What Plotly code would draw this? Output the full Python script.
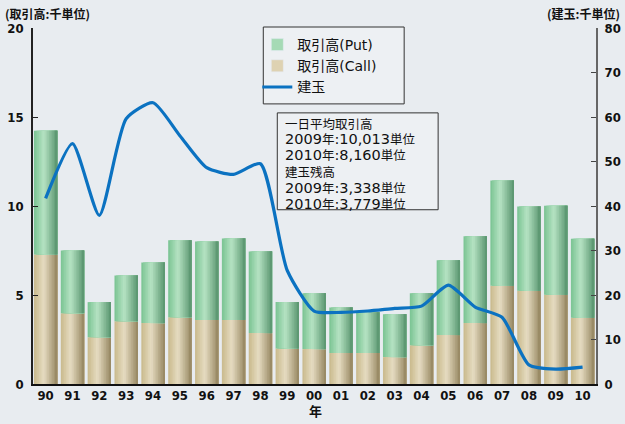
import re
import plotly.graph_objects as go

years = ["90","91","92","93","94","95","96","97","98","99","00",
         "01","02","03","04","05","06","07","08","09","10"]
call_vol = [7.28, 3.98, 2.63, 3.53, 3.42, 3.75, 3.60, 3.60, 2.86, 2.00, 1.96,
            1.74, 1.74, 1.51, 2.18, 2.75, 3.42, 5.52, 5.24, 5.01, 3.72]
total_vol = [14.23, 7.50, 4.60, 6.10, 6.83, 8.07, 8.00, 8.18, 7.45, 4.60, 5.10,
             4.30, 4.03, 3.92, 5.10, 6.95, 8.30, 11.43, 9.97, 10.013, 8.160]
put_vol = [round(t - c, 3) for t, c in zip(total_vol, call_vol)]
open_interest = [41.7, 54.0, 37.9, 59.6, 63.2, 55.8, 48.6, 47.1, 49.5, 25.5, 16.4,
                 16.1, 16.4, 17.0, 17.5, 22.2, 17.3, 15.0, 4.3, 3.338, 3.779]

left_ticks = [0, 5, 10, 15, 20]
right_ticks = [0, 10, 20, 30, 40, 50, 60, 70, 80]

note_lines = ["一日平均取引高", "2009年:10,013単位", "2010年:8,160単位",
              "建玉残高", "2009年:3,338単位", "2010年:3,779単位"]

W, H = 625, 424
ML, MR, MT, MB = 32.5, 29, 28, 39.5
PW, PH = W - ML - MR, H - MT - MB

def px(x):
    return (x - ML) / PW

def py(y):
    return (H - MB - y) / PH

numfam = "DejaVu Sans Condensed, Liberation Sans Narrow, Arial"
num_font = dict(family=numfam, size=13, color="#111", weight="bold")
jp = "Noto Sans CJK JP, Noto Sans"
mixed = "DejaVu Sans, Noto Sans CJK JP"
CJK_RE = r"[\u3000-\u9fff]+"

def cjk_small(s, size):
    return re.sub("(" + CJK_RE + ")", r"<span style='font-size:%spx'>\1</span>" % size, s)

# cylinder-like shading for bars (style only)
def hex2rgb(h):
    h = h.lstrip("#")
    return [int(h[i:i + 2], 16) for i in (0, 2, 4)]

def grad(stops, t):
    for (p0, c0), (p1, c1) in zip(stops, stops[1:]):
        if p0 <= t <= p1:
            f = (t - p0) / (p1 - p0) if p1 > p0 else 0
            a, b = hex2rgb(c0), hex2rgb(c1)
            return "rgb(%d,%d,%d)" % tuple(round(a[k] + (b[k] - a[k]) * f) for k in range(3))
    return stops[-1][1]

green_stops = [(0, "#79c392"), (0.42, "#b6e3c3"), (1, "#58946e")]
tan_stops = [(0, "#c9b98b"), (0.42, "#e6dcc2"), (1, "#958660")]

BW = 0.87
NS = 14
fig = go.Figure()

def add_shaded(y, base, name, stops, rank):
    for i in range(NS):
        t = (i + 0.5) / NS
        off = -BW / 2 + i * BW / NS
        fig.add_trace(go.Bar(
            x=years, y=y, base=base, yaxis="y",
            width=BW - i * BW / NS, offset=off,
            marker=dict(color=grad(stops, t), line=dict(width=0)),
            name=name, showlegend=False, hoverinfo="skip" if i else None,
            legendgroup=name))
    fig.add_trace(go.Bar(x=[None], y=[None], name=name, legendgroup=name,
                         marker=dict(color=grad(stops, 0.3)), legendrank=rank))

add_shaded(call_vol, [0] * len(call_vol), "取引高(Call)", tan_stops, 2)
add_shaded(put_vol, call_vol, "取引高(Put)", green_stops, 1)
fig.add_trace(go.Scatter(x=years, y=open_interest, name="建玉", yaxis="y2", mode="lines",
                         line=dict(color="#0b72c1", width=3.2, shape="spline", smoothing=0.6),
                         legendrank=3))

annotations = [
    dict(text="(取引高:千単位)", xref="paper", yref="paper", x=px(2), y=py(13),
         xanchor="left", yanchor="middle", showarrow=False,
         font=dict(family=jp, size=12, color="#111", weight="bold")),
    dict(text="(建玉:千単位)", xref="paper", yref="paper", x=px(622), y=py(13),
         xanchor="right", yanchor="middle", showarrow=False,
         font=dict(family=jp, size=12, color="#111", weight="bold")),
    dict(text="年", xref="paper", yref="paper", x=px(315), y=py(411),
         xanchor="center", yanchor="middle", showarrow=False,
         font=dict(family=jp, size=13, color="#111", weight="bold")),
]
line_y = [123, 139, 155, 171, 188, 204]
for t, yy in zip(note_lines, line_y):
    if re.fullmatch(CJK_RE, t):
        txt, fs, yy = t, 12.5, yy + 1.8
    else:
        txt, fs = cjk_small(t, 12.5), 14.5
    annotations.append(dict(text=txt, xref="paper", yref="paper",
                            x=px(283), y=py(yy), xanchor="left", yanchor="middle",
                            showarrow=False,
                            font=dict(family=mixed, size=fs, color="#111")))

fig.update_layout(
    width=W, height=H,
    margin=dict(l=ML, r=MR, t=MT, b=MB, autoexpand=False),
    paper_bgcolor="#e8ecf0", plot_bgcolor="rgba(0,0,0,0)",
    barmode="overlay",
    showlegend=True,
    legend=dict(x=px(257), y=py(29), xanchor="left", yanchor="top",
                traceorder="normal", bgcolor="rgba(0,0,0,0)", borderwidth=0,
                font=dict(family=mixed, size=14, color="#111"),
                tracegroupgap=0, itemwidth=30),
    xaxis=dict(type="category", range=[-0.47, 20.5], showline=True, linecolor="#111",
               linewidth=2, ticks="", tickfont=num_font, ticklabelstandoff=-2,
               showgrid=False, zeroline=False, automargin=False),
    yaxis=dict(range=[0, 20], tickvals=left_ticks, showline=True, linecolor="#222",
               linewidth=1.5, ticks="inside", ticklen=5, tickcolor="#222",
               tickfont=num_font, showgrid=False, zeroline=False, ticklabelstandoff=5,
               automargin=False),
    yaxis2=dict(range=[0, 80], tickvals=right_ticks, overlaying="y", side="right",
                showline=True, linecolor="#666", linewidth=2, ticks="inside", ticklen=5,
                tickcolor="#444", tickfont=num_font, showgrid=False, zeroline=False,
                ticklabelstandoff=4, automargin=False),
    shapes=[
        dict(type="rect", xref="paper", yref="paper",
             x0=px(263), x1=px(404), y0=py(104), y1=py(27),
             line=dict(color="#333", width=1), fillcolor="#edf0f3", layer="below"),
        dict(type="rect", xref="paper", yref="paper",
             x0=px(277), x1=px(438), y0=py(210), y1=py(113),
             line=dict(color="#333", width=1), fillcolor="#edf0f3", layer="above"),
    ],
    annotations=annotations,
)

fig.write_html("out.html", config={"displayModeBar": False},
               post_script="document.body.style.margin='0px';"
                           "document.body.style.background='#e8ecf0';")
